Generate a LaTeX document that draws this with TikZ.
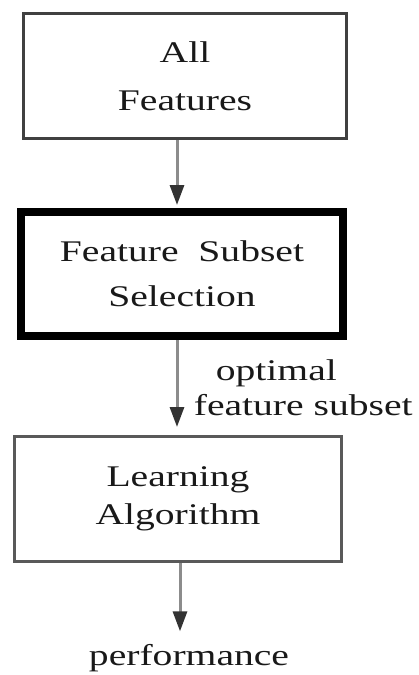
\documentclass[tikz,border=0pt]{standalone}
\usepackage{fontspec}
\setmainfont{Liberation Serif}[FakeStretch=1.32]
\usepackage{xcolor}
\usepackage{tikz}
\usetikzlibrary{arrows.meta}

\begin{document}
\begin{tikzpicture}[x=1pt, y=-1pt,
    every node/.style={font=\fontsize{30}{40}\selectfont, text=black!90},
    box/.style={draw=black!75, line width=3pt, align=center, minimum width=323pt, minimum height=125pt},
    arr/.style={draw=black!45, line width=3pt, -{Triangle[length=20pt, width=14pt, color=black!80]}}]
    \useasboundingbox (0,0) rectangle (419,675);
    \node[box] (A) at (185,76) {All\\[8pt]Features};
    \node[box, draw=black, line width=8pt, minimum width=322pt, minimum height=124pt] (B) at (182,274) {Feature~~Subset\\[5pt]Selection};
    \node[box, draw=black!65, minimum width=327pt] (C) at (178,499) {Learning\\[-2pt]Algorithm};
    \node[anchor=base] (D) at (189,665) {performance};
    \draw[arr, shorten >=3pt] ([xshift=-8pt]A.south) -- ([xshift=-5pt]B.north);
    \draw[arr, shorten >=8pt] ([xshift=-5pt]B.south) -- ([xshift=-1pt]C.north)
        node[midway, right=12pt, align=left] (L) {\hspace*{22pt}optimal\\[-5pt]feature subset};
    \draw[arr, shorten >=9pt] ([xshift=2pt]C.south) -- ([xshift=2pt]C.south |- D.north);
  \end{tikzpicture}
\end{document}
